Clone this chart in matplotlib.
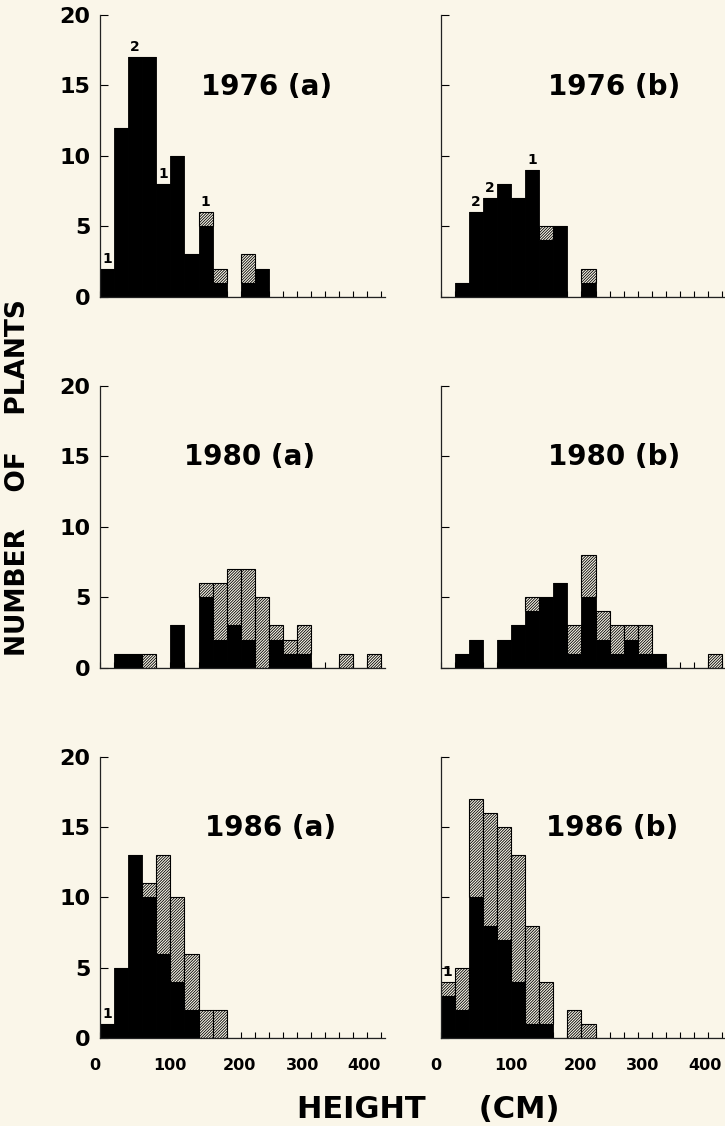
#!/usr/bin/env python

import numpy             as np
import matplotlib
matplotlib.use('Agg')
import matplotlib.pyplot as plt
import matplotlib.transforms as mtransforms

# Data: counts per 20 cm height class (0-20, 20-40, ... 380-400)
binEdges   = np.arange(0, 400, 20)
binWidth   = 20

black76a = [2, 12, 17, 17, 8, 10, 3, 5, 1, 0, 1, 2, 0, 0, 0, 0, 0, 0, 0, 0]
hatch76a = [0,  0,  0,  0, 0,  0, 0, 1, 1, 0, 2, 0, 0, 0, 0, 0, 0, 0, 0, 0]
black76b = [0, 1, 6, 7, 8, 7, 9, 4, 5, 0, 1, 0, 0, 0, 0, 0, 0, 0, 0, 0]
hatch76b = [0, 0, 0, 0, 0, 0, 0, 1, 0, 0, 1, 0, 0, 0, 0, 0, 0, 0, 0, 0]
black80a = [0, 1, 1, 0, 0, 3, 0, 5, 2, 3, 2, 0, 2, 1, 1, 0, 0, 0, 0, 0]
hatch80a = [0, 0, 0, 1, 0, 0, 0, 1, 4, 4, 5, 5, 1, 1, 2, 0, 0, 1, 0, 1]
black80b = [0, 1, 2, 0, 2, 3, 4, 5, 6, 1, 5, 2, 1, 2, 1, 1, 0, 0, 0, 0]
hatch80b = [0, 0, 0, 0, 0, 0, 1, 0, 0, 2, 3, 2, 2, 1, 2, 0, 0, 0, 0, 1]
black86a = [1, 5, 13, 10, 6, 4, 2, 0, 0, 0, 0, 0, 0, 0, 0, 0, 0, 0, 0, 0]
hatch86a = [0, 0,  0,  1, 7, 6, 4, 2, 2, 0, 0, 0, 0, 0, 0, 0, 0, 0, 0, 0]
black86b = [3, 2, 10, 8, 7, 4, 1, 1, 0, 0, 0, 0, 0, 0, 0, 0, 0, 0, 0, 0]
hatch86b = [1, 3,  7, 8, 8, 9, 7, 3, 0, 2, 1, 0, 0, 0, 0, 0, 0, 0, 0, 0]

# handwritten notes above some bars: (bin index, text)
notes76a = [(0, '1'), (2, '2'), (4, '1'), (7, '1')]
notes76b = [(2, '2'), (3, '2'), (6, '1')]
notes86a = [(0, '1')]
notes86b = [(0, '1')]

titles = ['1976 (a)', '1976 (b)', '1980 (a)', '1980 (b)', '1986 (a)', '1986 (b)']

xMajor      = [0, 100, 200, 300, 400]
xLabelShift = {0: -5, 100: 0, 200: -1, 300: -9, 400: -17}   # pixels, as printed

bgColor = '#FAF6E9'
plt.rcParams['hatch.linewidth'] = 0.6

fig = plt.figure(figsize=(7.25, 11.26), dpi=100, facecolor=bgColor)

W, H    = 725.0, 1126.0
axW     = 285.0 / W
axH     = 281.7 / H
lefts   = [100.0 / W, 440.7 / W]
bottoms = [(H - 296.7) / H, (H - 667.7) / H, (H - 1038.3) / H]
titlePos = [(0.586, 0.744), (0.607, 0.744),
            (0.525, 0.749), (0.607, 0.749),
            (0.599, 0.745), (0.603, 0.745)]

panels = [(black76a, hatch76a, notes76a), (black76b, hatch76b, notes76b),
          (black80a, hatch80a, []),       (black80b, hatch80b, []),
          (black86a, hatch86a, notes86a), (black86b, hatch86b, notes86b)]

for i, (blk, hat, notes) in enumerate(panels):
    row, col = i // 2, i % 2
    ax = fig.add_axes([lefts[col], bottoms[row], axW, axH])
    ax.set_facecolor('none')
    ax.set_axisbelow(True)

    blk = np.array(blk)
    hat = np.array(hat)
    ax.bar(binEdges, blk, width=binWidth, align='edge',
           color='black', edgecolor='black', linewidth=0.6)
    ax.bar(binEdges, hat, width=binWidth, align='edge', bottom=blk,
           facecolor=bgColor, edgecolor='black', linewidth=0.8,
           hatch='////////////')

    for k, txt in notes:
        ax.text(binEdges[k] + binWidth / 2.0, blk[k] + hat[k] + 0.2, txt,
                ha='center', va='bottom', fontsize=10, fontweight='bold')

    ax.set_xlim(0, 405)
    ax.set_ylim(0, 20)
    for side in ['top', 'right']:
        ax.spines[side].set_visible(False)
    for side in ['left', 'bottom']:
        ax.spines[side].set_linewidth(0.9)
        ax.spines[side].set_color('#222222')

    ax.set_yticks([0, 5, 10, 15, 20])
    ax.tick_params(axis='y', direction='in', length=6, width=0.8,
                   pad=7, labelsize=16)
    if col == 0:
        ax.set_yticklabels(['0', '5', '10', '15', '20'], fontweight='bold')
    else:
        ax.set_yticklabels([])

    xt = np.arange(0, 401, 20)
    ax.set_xticks(xt)
    ax.tick_params(axis='x', direction='in', length=4, width=0.8,
                   pad=14, labelsize=11.5)
    if row == 2:
        ax.set_xticklabels([str(v) if v in xMajor else '' for v in xt],
                           fontweight='bold')
        for v, lab in zip(xt, ax.get_xticklabels()):
            if v in xLabelShift:
                off = mtransforms.ScaledTranslation(xLabelShift[v] / 100.0, 0,
                                                    fig.dpi_scale_trans)
                lab.set_transform(lab.get_transform() + off)
    else:
        ax.set_xticklabels([])

    tx, ty = titlePos[i]
    ax.text(tx, ty, titles[i], transform=ax.transAxes, ha='center',
            va='center', fontsize=20, fontweight='bold')

fig.text(18.0 / W, 1 - 478.0 / H, 'NUMBER    OF    PLANTS', rotation=90,
         ha='center', va='center', fontsize=19, fontweight='bold')
fig.text(428.0 / W, 1 - 1110.0 / H, 'HEIGHT     (CM)', ha='center',
         va='center', fontsize=22, fontweight='bold')

plt.savefig('out.png', dpi=100, facecolor=bgColor)
plt.close()
